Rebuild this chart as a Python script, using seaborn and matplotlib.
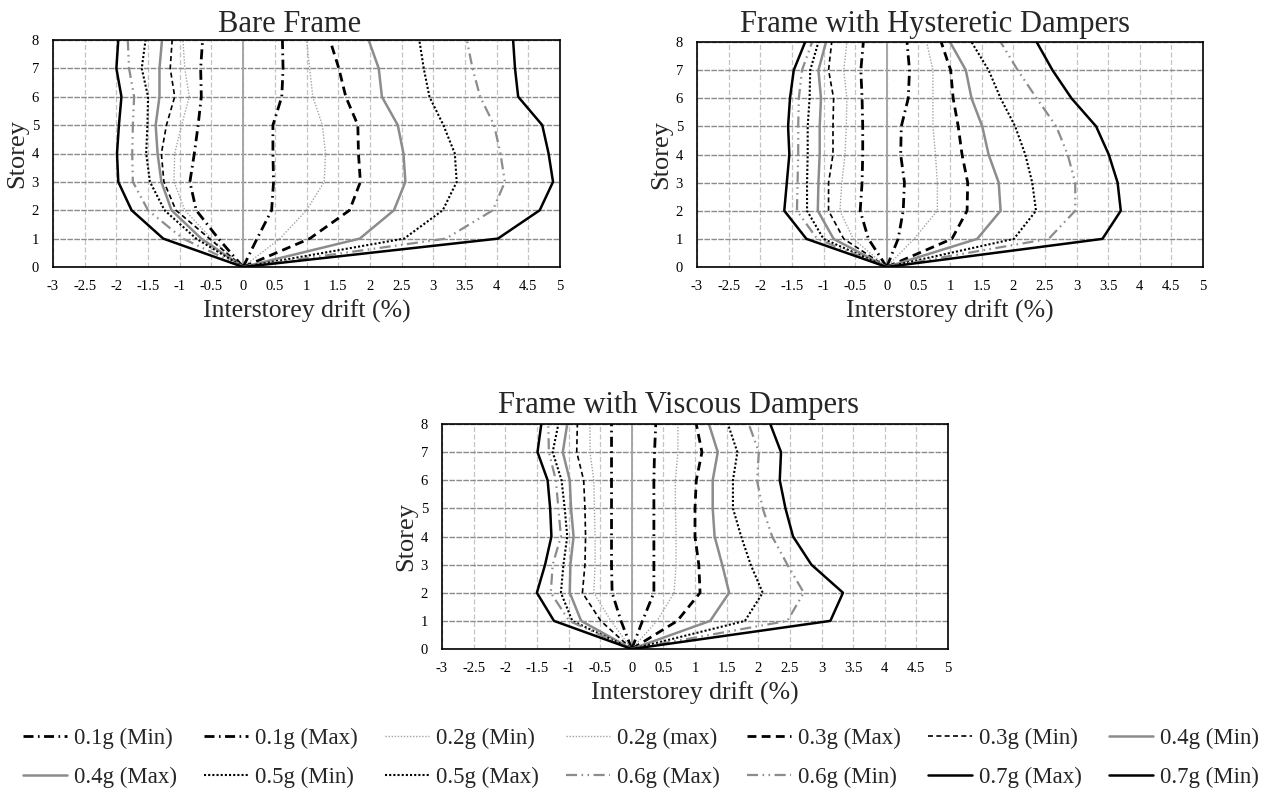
import numpy as np
import pandas as pd
import matplotlib
matplotlib.use("Agg")
import matplotlib.pyplot as plt
from matplotlib.lines import Line2D
import seaborn as sns

# ---------------------------------------------------------------- data
storeys = [0, 1, 2, 3, 4, 5, 6, 7, 8]
x_ticks = [-3, -2.5, -2, -1.5, -1, -0.5, 0, 0.5, 1, 1.5, 2, 2.5, 3, 3.5, 4, 4.5, 5]

series_labels = ["0.1g (Min)", "0.1g (Max)", "0.2g (Min)", "0.2g (max)",
                 "0.3g (Max)", "0.3g (Min)", "0.4g (Min)", "0.4g (Max)",
                 "0.5g (Min)", "0.5g (Max)", "0.6g (Max)", "0.6g (Min)",
                 "0.7g (Max)", "0.7g (Min)"]

panel_titles = ["Bare Frame", "Frame with Hysteretic Dampers", "Frame with Viscous Dampers"]

# Bare frame: interstorey drift (%) per storey
bare_01_min = [0, -0.39, -0.74, -0.84, -0.77, -0.71, -0.66, -0.67, -0.64]
bare_01_max = [0, 0.22, 0.45, 0.48, 0.47, 0.47, 0.61, 0.63, 0.62]
bare_02_min = [0, -0.50, -0.92, -1.09, -1.08, -0.97, -0.85, -0.92, -0.95]
bare_02_max = [0, 0.58, 1.00, 1.28, 1.30, 1.25, 1.10, 1.05, 1.00]
bare_03_max = [0, 1.05, 1.68, 1.85, 1.82, 1.81, 1.62, 1.51, 1.37]
bare_03_min = [0, -0.53, -1.06, -1.25, -1.29, -1.21, -1.08, -1.15, -1.12]
bare_04_min = [0, -0.66, -1.13, -1.29, -1.35, -1.38, -1.32, -1.32, -1.28]
bare_04_max = [0, 1.84, 2.38, 2.56, 2.53, 2.44, 2.19, 2.14, 1.98]
bare_05_min = [0, -0.74, -1.24, -1.47, -1.53, -1.51, -1.50, -1.60, -1.54]
bare_05_max = [0, 2.54, 3.15, 3.37, 3.34, 3.16, 2.94, 2.85, 2.78]
bare_06_max = [0, 3.20, 3.94, 4.13, 4.06, 3.96, 3.74, 3.62, 3.53]
bare_06_min = [0, -0.95, -1.50, -1.74, -1.75, -1.74, -1.72, -1.80, -1.82]
bare_07_max = [0, 4.02, 4.68, 4.89, 4.82, 4.72, 4.34, 4.29, 4.26]
bare_07_min = [0, -1.26, -1.76, -1.97, -1.99, -1.96, -1.92, -2.00, -1.97]

# Frame with hysteretic dampers
hyst_01_min = [0, -0.29, -0.42, -0.39, -0.38, -0.38, -0.39, -0.41, -0.37]
hyst_01_max = [0, 0.18, 0.26, 0.28, 0.22, 0.23, 0.34, 0.36, 0.32]
hyst_02_min = [0, -0.53, -0.74, -0.71, -0.66, -0.64, -0.63, -0.68, -0.63]
hyst_02_max = [0, 0.43, 0.80, 0.80, 0.77, 0.73, 0.73, 0.73, 0.63]
hyst_03_max = [0, 1.03, 1.27, 1.28, 1.19, 1.13, 1.05, 1.01, 0.86]
hyst_03_min = [0, -0.68, -0.92, -0.92, -0.85, -0.85, -0.84, -0.92, -0.87]
hyst_04_min = [0, -0.84, -1.09, -1.08, -1.06, -1.06, -1.04, -1.08, -0.96]
hyst_04_max = [0, 1.43, 1.80, 1.77, 1.61, 1.51, 1.34, 1.25, 1.00]
hyst_05_min = [0, -1.00, -1.26, -1.26, -1.25, -1.25, -1.22, -1.21, -1.08]
hyst_05_max = [0, 2.01, 2.36, 2.30, 2.19, 2.03, 1.80, 1.61, 1.34]
hyst_06_max = [0, 2.56, 2.98, 2.98, 2.86, 2.68, 2.37, 2.07, 1.80]
hyst_06_min = [0, -1.10, -1.42, -1.41, -1.40, -1.40, -1.39, -1.34, -1.18]
hyst_07_max = [0, 3.41, 3.70, 3.65, 3.51, 3.31, 2.92, 2.62, 2.37]
hyst_07_min = [0, -1.27, -1.62, -1.58, -1.54, -1.56, -1.53, -1.47, -1.29]

# Frame with viscous dampers
visc_01_min = [0, -0.17, -0.31, -0.32, -0.32, -0.32, -0.32, -0.32, -0.32]
visc_01_max = [0, 0.17, 0.35, 0.35, 0.35, 0.35, 0.35, 0.36, 0.38]
visc_02_min = [0, -0.33, -0.60, -0.58, -0.58, -0.59, -0.60, -0.66, -0.66]
visc_02_max = [0, 0.40, 0.67, 0.70, 0.70, 0.69, 0.69, 0.73, 0.73]
visc_03_max = [0, 0.72, 1.08, 1.06, 1.00, 1.00, 1.02, 1.11, 1.02]
visc_03_min = [0, -0.49, -0.78, -0.74, -0.73, -0.74, -0.76, -0.87, -0.86]
visc_04_min = [0, -0.80, -0.98, -0.97, -0.92, -0.96, -0.98, -1.09, -1.02]
visc_04_max = [0, 1.24, 1.54, 1.43, 1.31, 1.28, 1.28, 1.36, 1.22]
visc_05_min = [0, -0.94, -1.12, -1.08, -1.02, -1.06, -1.11, -1.25, -1.16]
visc_05_max = [0, 1.79, 2.07, 1.88, 1.73, 1.60, 1.60, 1.67, 1.52]
visc_06_max = [0, 2.46, 2.72, 2.46, 2.22, 2.07, 1.98, 2.01, 1.85]
visc_06_min = [0, -0.99, -1.28, -1.25, -1.12, -1.16, -1.20, -1.31, -1.32]
visc_07_max = [0, 3.14, 3.34, 2.84, 2.55, 2.43, 2.34, 2.36, 2.19]
visc_07_min = [0, -1.23, -1.50, -1.37, -1.27, -1.29, -1.33, -1.49, -1.43]

bare_series = [bare_01_min, bare_01_max, bare_02_min, bare_02_max, bare_03_max,
               bare_03_min, bare_04_min, bare_04_max, bare_05_min, bare_05_max,
               bare_06_max, bare_06_min, bare_07_max, bare_07_min]
hyst_series = [hyst_01_min, hyst_01_max, hyst_02_min, hyst_02_max, hyst_03_max,
               hyst_03_min, hyst_04_min, hyst_04_max, hyst_05_min, hyst_05_max,
               hyst_06_max, hyst_06_min, hyst_07_max, hyst_07_min]
visc_series = [visc_01_min, visc_01_max, visc_02_min, visc_02_max, visc_03_max,
               visc_03_min, visc_04_min, visc_04_max, visc_05_min, visc_05_max,
               visc_06_max, visc_06_min, visc_07_max, visc_07_min]

# ---------------------------------------------------------------- line styles
BLACK = "#000000"
GREY = "#8c8c8c"
LIGHT = "#a3a3a3"
dash_dot = (0, (3.6, 1.6, 0.6, 1.6))
dot = (0, (1, 1.2))
dash_thick = (0, (3.2, 1.9))
dash_thin = (0, (3, 2))
dash_dot_dot = (0, (5, 2, 0.7, 2, 0.7, 2))

styles = [
    dict(color=BLACK, lw=2.0, ls=dash_dot),       # 0.1g Min
    dict(color=BLACK, lw=2.0, ls=dash_dot),       # 0.1g Max
    dict(color=LIGHT, lw=1.0, ls=dot),            # 0.2g Min
    dict(color=LIGHT, lw=1.0, ls=dot),            # 0.2g max
    dict(color=BLACK, lw=2.0, ls=dash_thick),     # 0.3g Max
    dict(color=BLACK, lw=1.2, ls=dash_thin),      # 0.3g Min
    dict(color=GREY, lw=1.8, ls="-"),             # 0.4g Min
    dict(color=GREY, lw=1.8, ls="-"),             # 0.4g Max
    dict(color=BLACK, lw=1.5, ls=(0, (1, 1))),    # 0.5g Min
    dict(color=BLACK, lw=1.5, ls=(0, (1, 1))),    # 0.5g Max
    dict(color=GREY, lw=1.6, ls=dash_dot_dot),    # 0.6g Max
    dict(color=GREY, lw=1.6, ls=dash_dot_dot),    # 0.6g Min
    dict(color=BLACK, lw=1.8, ls="-"),            # 0.7g Max
    dict(color=BLACK, lw=1.8, ls="-"),            # 0.7g Min
]

# ---------------------------------------------------------------- figure
sns.set_theme(style="white")
plt.rcParams["font.family"] = ["Liberation Serif", "DejaVu Serif"]

W, H = 1273, 800
fig = plt.figure(figsize=(W / 100, H / 100), dpi=100)


def px_axes(left, top, right, bottom):
    return fig.add_axes([left / W, 1 - bottom / H, (right - left) / W, (bottom - top) / H])


panels = [
    dict(box=(53, 40, 560, 267), title_xy=(290, 32), series=bare_series),
    dict(box=(697, 42, 1203, 267), title_xy=(935, 32), series=hyst_series),
    dict(box=(442, 424, 948, 649), title_xy=(679, 413), series=visc_series),
]

for panel, title in zip(panels, panel_titles):
    left, top, right, bottom = panel["box"]
    ax = px_axes(left, top, right, bottom)

    for values, st in zip(panel["series"], styles):
        df = pd.DataFrame({"drift": values, "storey": storeys})
        sns.lineplot(data=df, x="drift", y="storey", ax=ax, sort=False,
                     estimator=None, color=st["color"], linewidth=st["lw"],
                     linestyle=st["ls"], legend=False)

    ax.set_xlim(-3, 5)
    ax.set_ylim(0, 8)
    ax.set_xticks(x_ticks)
    ax.set_xticklabels([f"{t:g}" for t in x_ticks])
    ax.set_yticks(storeys)
    ax.set_axisbelow(True)
    ax.grid(axis="x", color="#c4c4c4", linestyle=(0, (4, 2)), linewidth=0.9)
    ax.grid(axis="y", color="#8a8a8a", linestyle=(0, (4, 1)), linewidth=1.0)
    ax.axvline(0, color="#a6a6a6", linewidth=1.4, zorder=1.5)
    ax.tick_params(axis="both", length=0, labelsize=10.5, colors="black")
    ax.tick_params(axis="x", pad=9)
    ax.tick_params(axis="y", pad=10)
    for sp in ax.spines.values():
        sp.set_color("black")
        sp.set_linewidth(1.2)
        sp.set_visible(True)
    ax.set_xlabel("")
    ax.set_ylabel("")

    tx, ty = panel["title_xy"]
    fig.text(tx / W, 1 - ty / H, title, ha="center", va="baseline", fontsize=22)
    fig.text((left + right) / 2 / W, 1 - (bottom + 44) / H, "Interstorey drift (%)",
             ha="center", va="center", fontsize=18.5)
    fig.text((left - 36) / W, 1 - (top + bottom) / 2 / H, "Storey",
             ha="center", va="center", rotation=90, fontsize=19)

# ---------------------------------------------------------------- legend
handles = [Line2D([], [], color=st["color"], linewidth=st["lw"], linestyle=st["ls"])
           for st in styles]
order = []
for j in range(7):
    order += [j, j + 7]
fig.legend([handles[i] for i in order], [series_labels[i] for i in order],
           ncol=7, loc="center", mode="expand",
           bbox_to_anchor=(14 / W, 1 - 798 / H, 1254 / W, 80 / H),
           frameon=False, fontsize=16.5, handlelength=1.9, handletextpad=0.3,
           labelspacing=0.75, borderaxespad=0, columnspacing=0.8)

fig.savefig("out.png", dpi=100)
